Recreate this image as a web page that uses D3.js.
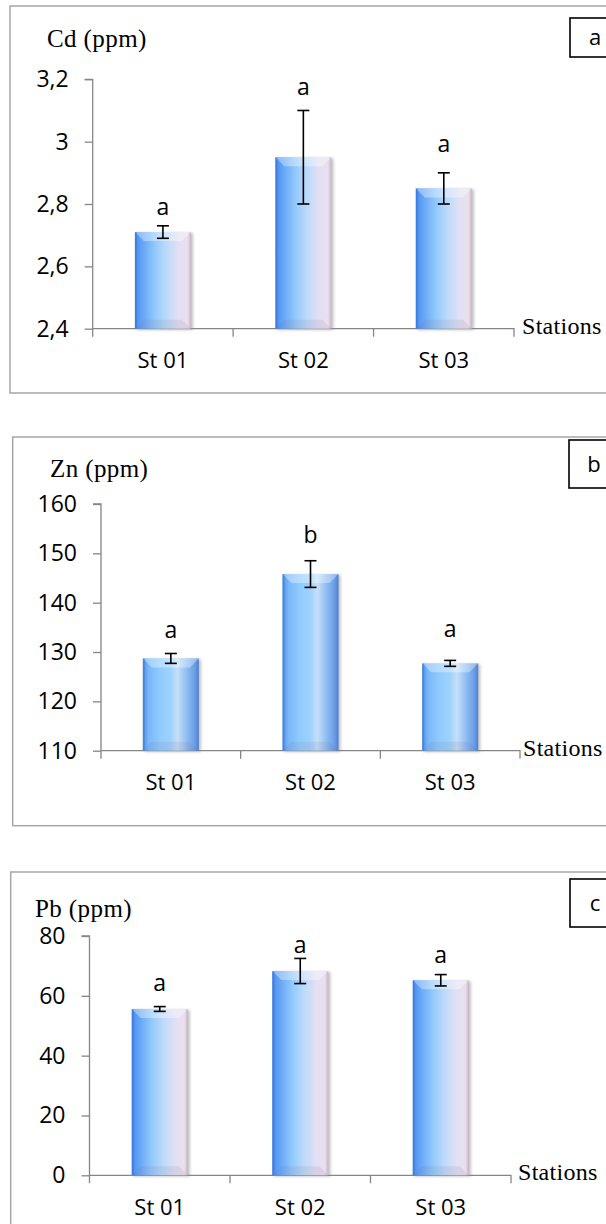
<!DOCTYPE html>
<html>
<head>
<meta charset="utf-8">
<script src="https://cdn.jsdelivr.net/npm/d3@7/dist/d3.min.js"></script>
<style>
  html, body { margin: 0; padding: 0; background: #fff; }
  svg { display: block; }
</style>
</head>
<body>
<svg id="chart" width="606" height="1224"></svg>
<script>
// ---------------- DATA ----------------
const stations = ["St 01", "St 02", "St 03"];

const cdValues = [2.71, 2.95, 2.85];
const cdErrors = [0.02, 0.15, 0.05];
const cdLetters = ["a", "a", "a"];
const cdLetterAt = [2.79, 3.176, 2.993];
const cdTicks = [2.4, 2.6, 2.8, 3.0, 3.2];

const znValues = [128.7, 145.8, 127.7];
const znErrors = [1.0, 2.7, 0.6];
const znLetters = ["a", "b", "a"];
const znLetterAt = [134.5, 153.75, 134.7];
const znTicks = [110, 120, 130, 140, 150, 160];

const pbValues = [55.6, 68.3, 65.2];
const pbErrors = [0.8, 4.2, 1.9];
const pbLetters = ["a", "a", "a"];
const pbLetterAt = [64.2, 77.0, 73.7];
const pbTicks = [0, 20, 40, 60, 80];

const panelTags = ["a", "b", "c"];
const yTitles = ["Cd (ppm)", "Zn (ppm)", "Pb (ppm)"];
const xTitle = "Stations";

// ---------------- DRAWING ----------------
const svg = d3.select("#chart");
const defs = svg.append("defs");

function grad(id, stops) {
  const g = defs.append("linearGradient").attr("id", id)
    .attr("x1", "0%").attr("x2", "100%").attr("y1", "0%").attr("y2", "0%");
  stops.forEach(s => g.append("stop").attr("offset", s[0]).attr("stop-color", s[1]));
}
grad("gradAC", [["0%", "#4684ea"], ["8%", "#5a9cf4"], ["35%", "#90c8fc"], ["55%", "#bad9fa"], ["78%", "#e2e0f4"], ["94%", "#ebdfec"], ["100%", "#c6b6ca"]]);
grad("gradB", [["0%", "#4f8ee2"], ["10%", "#78b6f8"], ["30%", "#8fcbfe"], ["50%", "#9fd2fc"], ["62%", "#c6dff8"], ["80%", "#8abaf2"], ["93%", "#6a9de6"], ["100%", "#4d7fd0"]]);

const shadow = defs.append("filter").attr("id", "shadow").attr("x", "-20%").attr("y", "-20%").attr("width", "150%").attr("height", "150%");
shadow.append("feGaussianBlur").attr("stdDeviation", 1.5);

const fmtComma = d => String(d).replace(".", ",");
const SANS = "'Open Sans', sans-serif";
const SERIF = "'Liberation Serif', 'Times New Roman', serif";

function drawPanel(p) {
  const g = svg.append("g");
  // panel border
  g.append("rect")
    .attr("x", p.box[0]).attr("y", p.box[1])
    .attr("width", p.box[2] - p.box[0]).attr("height", p.box[3] - p.box[1])
    .attr("fill", "#fff").attr("stroke", "#a6a6a6").attr("stroke-width", 1.5);

  const x = d3.scaleBand().domain(stations).range([p.x0, p.x1]).paddingInner(0).paddingOuter(0);
  const y = d3.scaleLinear().domain(p.domain).range([p.yBottom, p.yTop]);
  const bw = 56;

  // y axis
  const yAxis = d3.axisLeft(y).tickValues(p.ticks).tickSize(8).tickPadding(16)
    .tickFormat(p.fmt);
  const ya = g.append("g").attr("transform", `translate(${p.x0},0)`).call(yAxis);
  ya.select(".domain").attr("stroke", "#868686").attr("stroke-width", 1.3)
    .attr("d", `M-8,${p.yTop}H0V${p.yBottom + 8}`);
  ya.selectAll(".tick line").attr("stroke", "#868686").attr("stroke-width", 1.3);
  ya.selectAll(".tick text").attr("font-family", SANS).attr("font-size", 23)
    .attr("fill", "#000");

  // x axis
  const xa = g.append("g").attr("transform", `translate(0,${p.yBottom})`)
    .call(d3.axisBottom(x).tickSize(0).tickPadding(24));
  xa.select(".domain").attr("stroke", "#868686").attr("stroke-width", 1.3)
    .attr("d", `M${p.x0},0H${p.x1}V8`);
  xa.selectAll(".tick text").attr("font-family", SANS).attr("font-size", 22)
    .attr("fill", "#000");
  const bounds = stations.slice(1).map(s => x(s));
  g.selectAll(".xt").data(bounds).enter().append("line")
    .attr("x1", d => d).attr("x2", d => d).attr("y1", p.yBottom).attr("y2", p.yBottom + 8)
    .attr("stroke", "#868686").attr("stroke-width", 1.3);

  // bars
  const bars = g.selectAll(".bar").data(p.values).enter().append("g");
  const bx = (d, i) => x(stations[i]) + x.bandwidth() / 2 - bw / 2;
  bars.append("rect")
    .attr("x", (d, i) => bx(d, i) + 2).attr("y", d => y(d) + 1)
    .attr("width", bw).attr("height", d => p.yBottom - y(d))
    .attr("fill", "#8a8a8a").attr("opacity", 0.55).attr("filter", "url(#shadow)");
  bars.append("rect")
    .attr("x", bx).attr("y", d => y(d))
    .attr("width", bw).attr("height", d => p.yBottom - y(d))
    .attr("fill", `url(#${p.grad})`);
  const bev = 9;
  bars.append("path")
    .attr("d", (d, i) => {
      const x0 = bx(d, i), x1 = x0 + bw, t = y(d);
      return `M${x0},${t}H${x1}L${x1 - bev},${t + bev}H${x0 + bev}Z`;
    })
    .attr("fill", "#ffffff").attr("opacity", 0.35);
  bars.append("path")
    .attr("d", (d, i) => {
      const x0 = bx(d, i), x1 = x0 + bw, b = p.yBottom;
      return `M${x0},${b}H${x1}L${x1 - bev},${b - bev}H${x0 + bev}Z`;
    })
    .attr("fill", "#7a6a8a").attr("opacity", 0.12);
  bars.append("rect")
    .attr("x", bx).attr("y", d => y(d))
    .attr("width", 2).attr("height", d => p.yBottom - y(d))
    .attr("fill", "#2f6cc8").attr("opacity", 0.35);

  // error bars
  const cx = i => x(stations[i]) + x.bandwidth() / 2;
  const eb = g.selectAll(".err").data(p.values).enter().append("g")
    .attr("stroke", "#000").attr("stroke-width", 1.6);
  eb.append("line").attr("x1", (d, i) => cx(i)).attr("x2", (d, i) => cx(i))
    .attr("y1", (d, i) => y(d + p.errors[i])).attr("y2", (d, i) => y(d - p.errors[i]));
  eb.append("line").attr("x1", (d, i) => cx(i) - 6).attr("x2", (d, i) => cx(i) + 6)
    .attr("y1", (d, i) => y(d + p.errors[i])).attr("y2", (d, i) => y(d + p.errors[i]));
  eb.append("line").attr("x1", (d, i) => cx(i) - 6).attr("x2", (d, i) => cx(i) + 6)
    .attr("y1", (d, i) => y(d - p.errors[i])).attr("y2", (d, i) => y(d - p.errors[i]));

  // significance letters
  g.selectAll(".let").data(p.letters).enter().append("text")
    .attr("x", (d, i) => cx(i)).attr("y", (d, i) => y(p.letterAt[i]))
    .attr("dy", "0.35em").attr("text-anchor", "middle")
    .attr("font-family", SANS).attr("font-size", 23)
    .text(d => d);

  // titles
  g.append("text").attr("x", p.titlePos[0]).attr("y", p.titlePos[1])
    .attr("font-family", SERIF).attr("font-size", 25)
    .attr("letter-spacing", 0.4)
    .text(p.title);
  g.append("text").attr("x", p.x1 + p.stOff).attr("y", p.yBottom + 5)
    .attr("font-family", SERIF).attr("font-size", 24)
    .attr("letter-spacing", 0.3)
    .text(xTitle);

  // tag box
  g.append("rect").attr("x", p.tag[0]).attr("y", p.tag[1])
    .attr("width", 60).attr("height", p.tag[2] - p.tag[1])
    .attr("fill", "#fff").attr("stroke", "#000").attr("stroke-width", 1.6);
  g.append("text").attr("x", p.tag[0] + 25).attr("y", (p.tag[1] + p.tag[2]) / 2)
    .attr("dy", "0.35em").attr("text-anchor", "middle")
    .attr("font-family", SANS).attr("font-size", 22)
    .text(p.tagText);
}

drawPanel({
  box: [10, 6, 640, 393], x0: 92.7, x1: 514, yTop: 79.3, yBottom: 328.7,
  domain: [2.4, 3.2], ticks: cdTicks, fmt: fmtComma,
  values: cdValues, errors: cdErrors, letters: cdLetters, letterAt: cdLetterAt,
  grad: "gradAC", title: yTitles[0], titlePos: [47, 47], stOff: 8,
  tag: [570, 18, 57], tagText: panelTags[0]
});
drawPanel({
  box: [12.7, 437, 640, 825.7], x0: 101, x1: 520, yTop: 504, yBottom: 750.7,
  domain: [110, 160], ticks: znTicks, fmt: d => String(d),
  values: znValues, errors: znErrors, letters: znLetters, letterAt: znLetterAt,
  grad: "gradB", title: yTitles[1], titlePos: [50, 477], stOff: 3,
  tag: [569, 440, 488], tagText: panelTags[1]
});
drawPanel({
  box: [10.7, 872, 640, 1260], x0: 89.5, x1: 511, yTop: 936, yBottom: 1175.3,
  domain: [0, 80], ticks: pbTicks, fmt: d => String(d),
  values: pbValues, errors: pbErrors, letters: pbLetters, letterAt: pbLetterAt,
  grad: "gradAC", title: yTitles[2], titlePos: [35, 917], stOff: 7,
  tag: [570, 879, 927], tagText: panelTags[2]
});
</script>
</body>
</html>
